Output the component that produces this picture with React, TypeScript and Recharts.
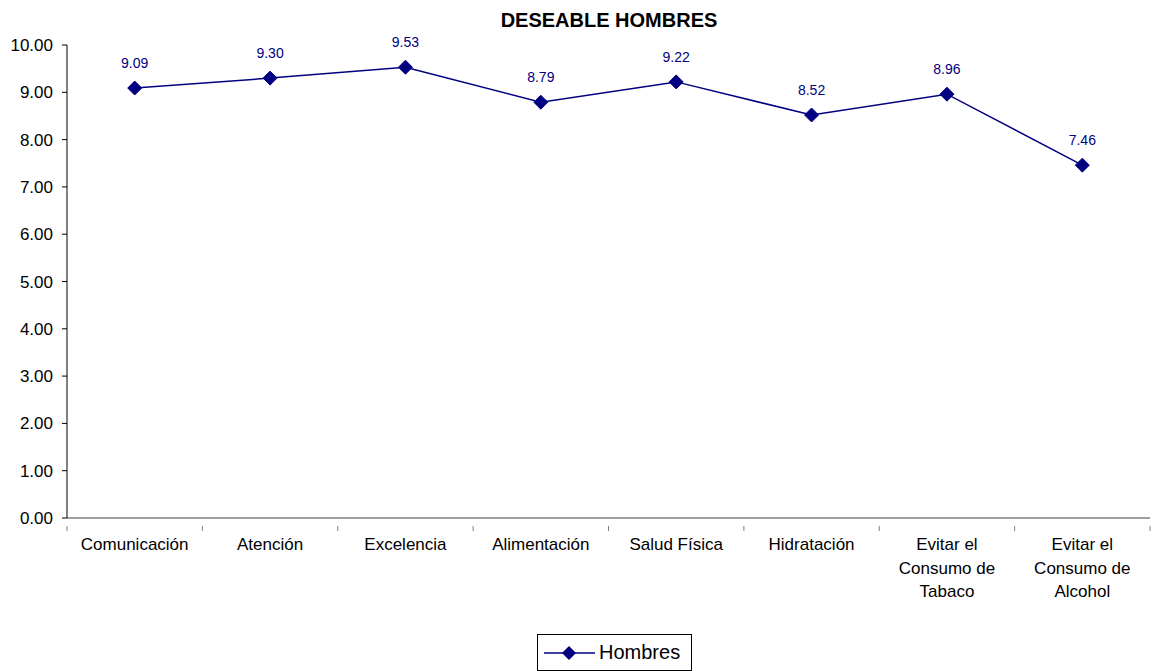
import React from "react";
import {
  LineChart,
  Line,
  XAxis,
  YAxis,
  LabelList,
} from "recharts";

// 項目名
const categories = [
  "Comunicación",
  "Atención",
  "Excelencia",
  "Alimentación",
  "Salud Física",
  "Hidratación",
  "Evitar el Consumo de Tabaco",
  "Evitar el Consumo de Alcohol",
];

// 平均値
const hombres = [9.09, 9.3, 9.53, 8.79, 9.22, 8.52, 8.96, 7.46];

const yTicks = [0, 1, 2, 3, 4, 5, 6, 7, 8, 9, 10];

const data = categories.map((name, i) => ({ name, hombres: hombres[i] }));

const WIDTH = 1161;
const HEIGHT = 671;
const PLOT_LEFT = 67;
const PLOT_RIGHT = 11;
const BAND = (WIDTH - PLOT_LEFT - PLOT_RIGHT) / categories.length;
const NAVY = "#000080";
const FONT = "'Liberation Sans', Arial, sans-serif";

// 単語単位で折り返す
const wrap = (text: string, max: number): string[] => {
  const lines: string[] = [];
  let cur = "";
  text.split(" ").forEach((w) => {
    const next = cur ? cur + " " + w : w;
    if (next.length > max && cur) {
      lines.push(cur);
      cur = w;
    } else {
      cur = next;
    }
  });
  if (cur) lines.push(cur);
  return lines;
};

// X軸ラベル（目盛りは項目の境界に描く）
const CategoryTick = (props: any) => {
  const { x, y, payload, index } = props;
  const lines = wrap(payload.value, 12);
  const left = x - BAND / 2;
  return (
    <g>
      <line x1={left} y1={y} x2={left} y2={y + 5} stroke="#808080" />
      {index === categories.length - 1 && (
        <line x1={left + BAND} y1={y} x2={left + BAND} y2={y + 5} stroke="#808080" />
      )}
      <text x={x} y={y + 24} textAnchor="middle" fontSize={17} fill="#000" fontFamily={FONT}>
        {lines.map((l, i) => (
          <tspan key={i} x={x} dy={i === 0 ? 0 : 23.5}>
            {l}
          </tspan>
        ))}
      </text>
    </g>
  );
};

// ひし形マーカー
const Diamond = (props: any) => {
  const { cx, cy } = props;
  if (cx == null || cy == null) return null;
  const r = 7;
  return (
    <polygon
      points={`${cx},${cy - r} ${cx + r},${cy} ${cx},${cy + r} ${cx - r},${cy}`}
      fill={NAVY}
      stroke={NAVY}
    />
  );
};

const LegendBox = () => (
  <div
    style={{
      position: "absolute",
      left: 537,
      top: 634,
      width: 155,
      height: 37,
      border: "1px solid #000",
      background: "#fff",
      display: "flex",
      alignItems: "center",
      fontFamily: FONT,
      fontSize: 20,
      boxSizing: "border-box",
    }}
  >
    <svg width={55} height={20} style={{ marginLeft: 4 }}>
      <line x1={2} y1={10} x2={53} y2={10} stroke={NAVY} strokeWidth={1.5} />
      <polygon points="27,3 34,10 27,17 20,10" fill={NAVY} />
    </svg>
    <span style={{ marginLeft: 2 }}>Hombres</span>
  </div>
);

export default function App() {
  return (
    <div style={{ position: "absolute", left: 0, top: 0, width: WIDTH, height: HEIGHT, background: "#fff", overflow: "hidden" }}>
      <div
        style={{
          position: "absolute",
          left: 0,
          width: 1218,
          top: 8,
          textAlign: "center",
          fontFamily: FONT,
          fontWeight: "bold",
          fontSize: 20,
          lineHeight: "24px",
        }}
      >
        DESEABLE HOMBRES
      </div>
      <LineChart
        width={WIDTH}
        height={HEIGHT}
        data={data}
        margin={{ top: 45, right: PLOT_RIGHT, left: 0, bottom: 0 }}
      >
        <XAxis
          dataKey="name"
          axisLine={{ stroke: "#808080", strokeWidth: 1.5 }}
          tickLine={false}
          tick={<CategoryTick />}
          interval={0}
          height={153}
          padding={{ left: BAND / 2, right: BAND / 2 }}
        />
        <YAxis
          domain={[0, 10]}
          ticks={yTicks}
          width={PLOT_LEFT}
          axisLine={{ stroke: "#000" }}
          tickLine={{ stroke: "#000" }}
          tickSize={5}
          tickMargin={9}
          tickFormatter={(v: number) => v.toFixed(2)}
          tick={{ fontSize: 17, fill: "#000", fontFamily: FONT }}
        />
        <Line
          type="linear"
          dataKey="hombres"
          name="Hombres"
          stroke={NAVY}
          strokeWidth={1.5}
          dot={<Diamond />}
          activeDot={false}
          isAnimationActive={false}
        >
          <LabelList
            dataKey="hombres"
            position="top"
            offset={20}
            formatter={(v: any) => Number(v).toFixed(2)}
            style={{ fontSize: 14, fill: NAVY, fontFamily: FONT }}
          />
        </Line>
      </LineChart>
      <LegendBox />
    </div>
  );
}
